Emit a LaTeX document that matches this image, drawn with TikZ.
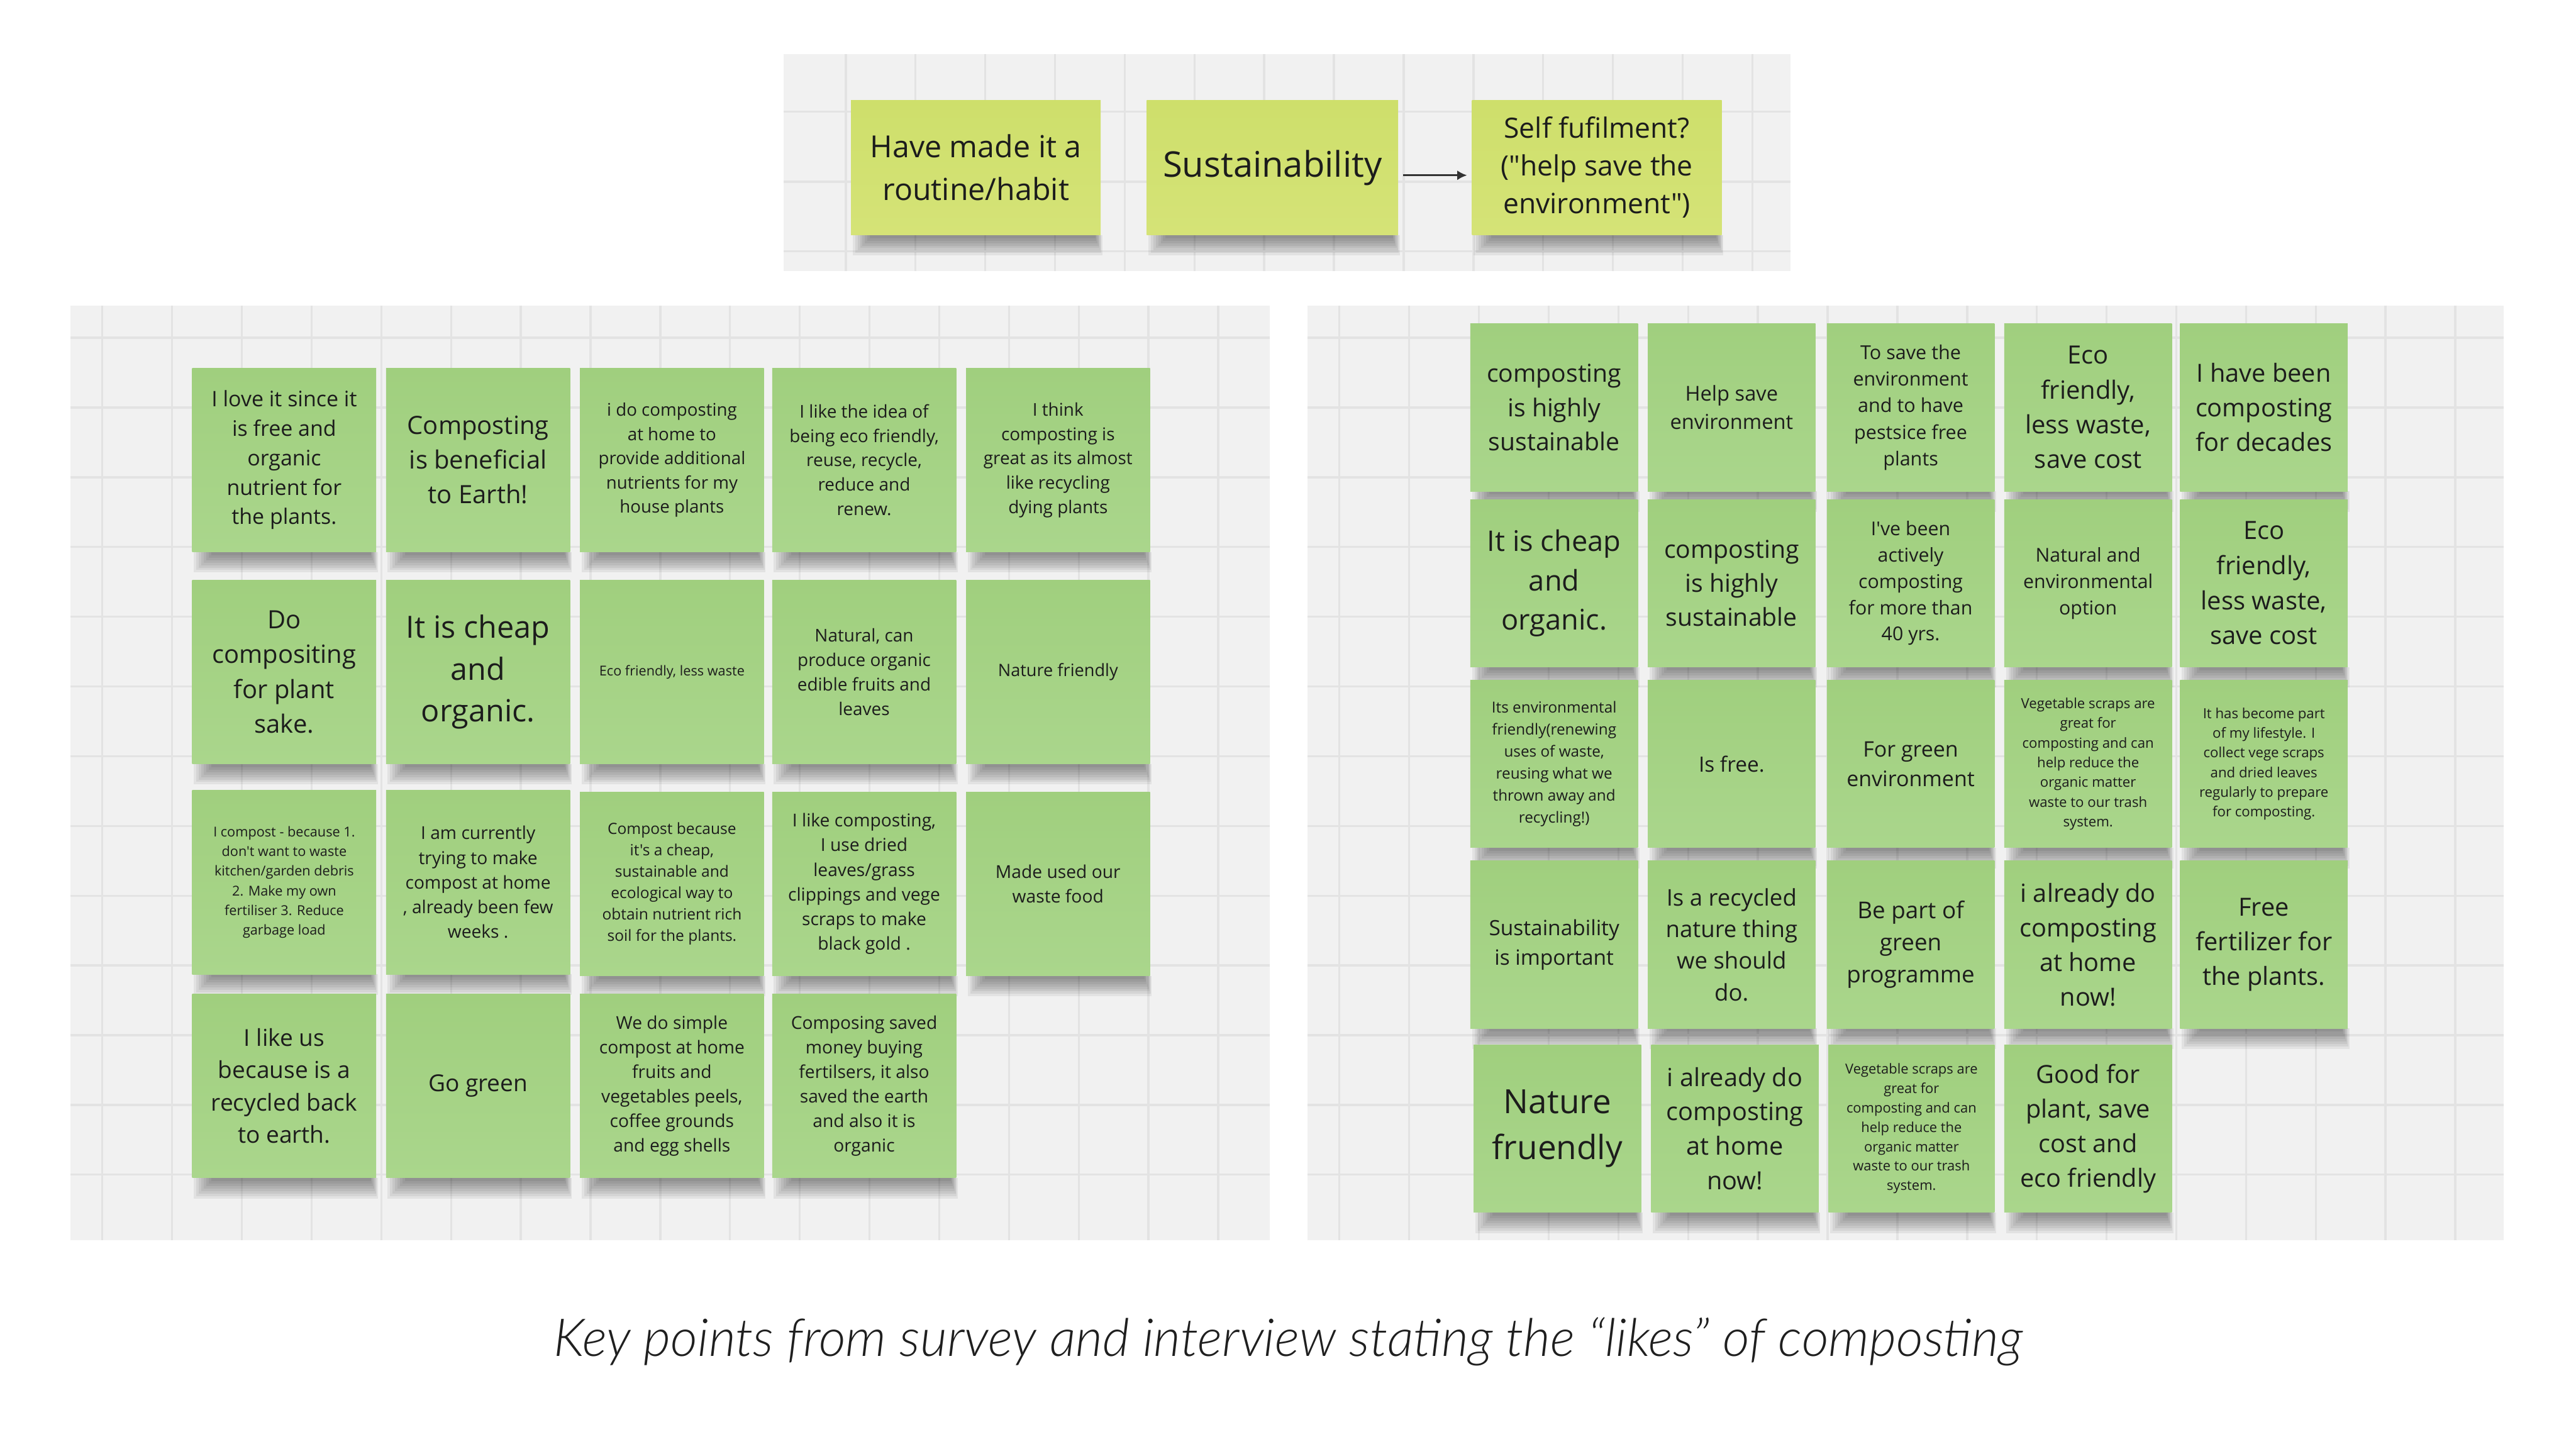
\documentclass[tikz,border=0pt]{standalone}
\usepackage{fontspec}
\usepackage{graphicx}
\setmainfont{Open Sans}[Ligatures=TeXOff]
\newfontfamily\capfont{Lato Light Italic}
\usetikzlibrary{arrows.meta}
\definecolor{panelbg}{HTML}{F1F1F1}
\definecolor{gridc}{HTML}{E3E3E3}
\definecolor{gTop}{HTML}{A0CF7E}
\definecolor{gBot}{HTML}{AAD68C}
\definecolor{yTop}{HTML}{CEDF6B}
\definecolor{yBot}{HTML}{D5E377}
\definecolor{txt}{HTML}{1C1C1C}
\tikzset{
  gnote/.style={inner sep=0pt, outer sep=0pt, align=center, text=txt, top color=gTop, bottom color=gBot},
  ynote/.style={inner sep=0pt, outer sep=0pt, align=center, text=txt, top color=yTop, bottom color=yBot},
  gridline/.style={draw=gridc, line width=1.3pt},
  arrowline/.style={draw=black!80, line width=1.2pt, -{Latex[length=6pt,width=6pt]}}
}
% name, x, y, w, h, fontsize, baselineskip, text, style
\newcommand\pnote[9]{%
  \foreach \k in {0,...,7}{\fill[black,opacity=0.06] ({#2+1+1.5*\k},{#3+#5}) rectangle ({#2+#4+1-0.6*\k},{#3+#5+12.5-1.5*\k});}
  \node[#9, minimum width=#4, minimum height=#5, font=\fontsize{#6}{#7}\selectfont] (#1) at ({#2+#4/2},{#3+#5/2}) {#8};
}
\newcommand\gn[8]{\pnote{#1}{#2}{#3}{#4}{#5}{#6}{#7}{#8}{gnote}}
\begin{document}
\begin{tikzpicture}[x=1pt,y=-1pt]
\useasboundingbox[fill=white] (0,0) rectangle (1568,882);
% ---- panels ----
\fill[panelbg] (477,33) rectangle (1090,165);
\foreach \i in {0,...,13}{\draw[gridline] ({514.8+42.45*\i},33) -- ({514.8+42.45*\i},165);}
\foreach \y in {68,110.7,153}{\draw[gridline] (477,\y) -- (1090,\y);}
\fill[panelbg] (43,186) rectangle (773,755);
\foreach \i in {0,...,16}{\draw[gridline] ({62.3+42.45*\i},186) -- ({62.3+42.45*\i},755);}
\foreach \j in {0,...,12}{\draw[gridline] (43,{205.6+42.45*\j}) -- (773,{205.6+42.45*\j});}
\fill[panelbg] (796,186) rectangle (1524,755);
\foreach \i in {0,...,16}{\draw[gridline] ({815.3+42.45*\i},186) -- ({815.3+42.45*\i},755);}
\foreach \j in {0,...,12}{\draw[gridline] (796,{205.6+42.45*\j}) -- (1524,{205.6+42.45*\j});}
% ---- top notes ----
\pnote{t1}{518}{61}{152}{82}{18.5}{26}{Have made it a\\routine/habit}{ynote}
\pnote{t2}{698}{61}{153}{82}{21.5}{26}{Sustainability}{ynote}
\pnote{t3}{896}{61}{152}{82}{17}{23}{Self fufilment?\\("help save the\\environment")}{ynote}
\draw[arrowline] ([shift={(3,4.7)}]t2.east) -- ([shift={(-3,4.7)}]t3.west);
% ---- left panel ----
\gn{l11}{117}{224}{112}{112}{13}{17.9}{I love it since it\\is free and\\organic\\nutrient for\\the plants.}
\gn{l12}{235}{224}{112}{112}{15.3}{21.1}{Composting\\is beneficial\\to Earth!}
\gn{l13}{353}{224}{112}{112}{10.6}{14.7}{i do composting\\at home to\\provide additional\\nutrients for my\\house plants}
\gn{l14}{470}{224}{112}{112}{10.7}{14.8}{I like the idea of\\being eco friendly,\\reuse, recycle,\\reduce and\\renew.}
\gn{l15}{588}{224}{112}{112}{10.7}{14.8}{I think\\composting is\\great as its almost\\like recycling\\dying plants}
\gn{l21}{117}{353}{112}{112}{15.3}{21.2}{Do\\compositing\\for plant\\sake.}
\gn{l22}{235}{353}{112}{112}{18.6}{25.5}{It is cheap\\and\\organic.}
\gn{l23}{353}{353}{112}{112}{8.3}{11}{Eco friendly, less waste}
\gn{l24}{470}{353}{112}{112}{10.7}{15}{Natural, can\\produce organic\\edible fruits and\\leaves}
\gn{l25}{588}{353}{112}{112}{10.4}{15}{Nature friendly}
\gn{l31}{117}{481}{112}{112}{8.3}{12}{I compost - because 1.\\don't want to waste\\kitchen/garden debris\\2. Make my own\\fertiliser 3. Reduce\\garbage load}
\gn{l32}{235}{481}{112}{112}{10.8}{15}{I am currently\\trying to make\\compost at home\\, already been few\\weeks .}
\gn{l33}{353}{482}{112}{112}{9.4}{13}{Compost because\\it's a cheap,\\sustainable and\\ecological way to\\obtain nutrient rich\\soil for the plants.}
\gn{l34}{470}{482}{112}{112}{10.8}{15}{I like composting,\\I use dried\\leaves/grass\\clippings and vege\\scraps to make\\black gold .}
\gn{l35}{588}{482}{112}{112}{10.8}{15}{Made used our\\waste food}
\gn{l41}{117}{605}{112}{112}{14.2}{19.7}{I like us\\because is a\\recycled back\\to earth.}
\gn{l42}{235}{605}{112}{112}{14.2}{20}{Go green}
\gn{l43}{353}{605}{112}{112}{10.8}{15}{We do simple\\compost at home\\fruits and\\vegetables peels,\\coffee grounds\\and egg shells}
\gn{l44}{470}{605}{112}{112}{10.8}{15}{Composing saved\\money buying\\fertilsers, it also\\saved the earth\\and also it is\\organic}
% ---- right panel ----
\gn{r11}{895}{197}{102}{102}{15}{21}{composting\\is highly\\sustainable}
\gn{r12}{1003}{197}{102}{102}{12.5}{17}{Help save\\environment}
\gn{r13}{1112}{197}{102}{102}{11.7}{16.2}{To save the\\environment\\and to have\\pestsice free\\plants}
\gn{r14}{1220}{197}{102}{102}{15.3}{21.2}{Eco\\friendly,\\less waste,\\save cost}
\gn{r15}{1327}{197}{102}{102}{15.2}{21}{I have been\\composting\\for decades}
\gn{r21}{895}{304}{102}{102}{17.3}{24}{It is cheap\\and\\organic.}
\gn{r22}{1003}{304}{102}{102}{15}{20.5}{composting\\is highly\\sustainable}
\gn{r23}{1112}{304}{102}{102}{11.6}{16}{I've been\\actively\\composting\\for more than\\40 yrs.}
\gn{r24}{1220}{304}{102}{102}{11.6}{16}{Natural and\\environmental\\option}
\gn{r25}{1327}{304}{102}{102}{15.3}{21.3}{Eco\\friendly,\\less waste,\\save cost}
\gn{r31}{895}{414}{102}{102}{9.3}{13.4}{Its environmental\\friendly(renewing\\uses of waste,\\reusing what we\\thrown away and\\recycling!)}
\gn{r32}{1003}{414}{102}{102}{12.8}{16}{Is free.}
\gn{r33}{1112}{414}{102}{102}{13}{18}{For green\\environment}
\gn{r34}{1220}{414}{102}{102}{8.5}{12}{Vegetable scraps are\\great for\\composting and can\\help reduce the\\organic matter\\waste to our trash\\system.}
\gn{r35}{1327}{414}{102}{102}{8.5}{12}{It has become part\\of my lifestyle. I\\collect vege scraps\\and dried leaves\\regularly to prepare\\for composting.}
\gn{r41}{895}{524}{102}{102}{12.8}{18}{Sustainability\\is important}
\gn{r42}{1003}{524}{102}{102}{14}{19.3}{Is a recycled\\nature thing\\we should\\do.}
\gn{r43}{1112}{524}{102}{102}{14.1}{19.5}{Be part of\\green\\programme}
\gn{r44}{1220}{524}{102}{102}{15.2}{21}{i already do\\composting\\at home\\now!}
\gn{r45}{1327}{524}{102}{102}{15.2}{21}{Free\\fertilizer for\\the plants.}
\gn{r51}{897}{636}{102}{102}{20.3}{28}{Nature\\fruendly}
\gn{r52}{1005}{636}{102}{102}{15.2}{21}{i already do\\composting\\at home\\now!}
\gn{r53}{1113}{636}{101}{102}{8.4}{11.8}{Vegetable scraps are\\great for\\composting and can\\help reduce the\\organic matter\\waste to our trash\\system.}
\gn{r54}{1220}{636}{102}{102}{15.2}{21}{Good for\\plant, save\\cost and\\eco friendly}
% ---- caption ----
\node[anchor=base, inner sep=0pt, text=black!88] (cap) at (784,825.5) {\resizebox{894pt}{!}{\capfont\fontsize{27}{32}\selectfont Key points from survey and interview stating the “likes” of composting}};
\end{tikzpicture}
\end{document}
